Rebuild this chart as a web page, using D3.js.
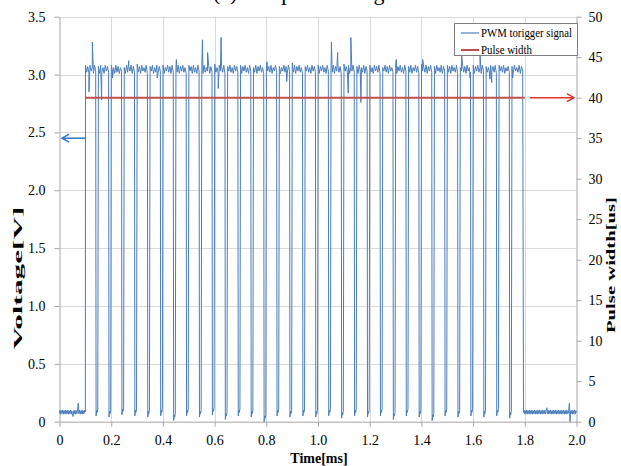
<!DOCTYPE html>
<html><head><meta charset="utf-8">
<script src="https://cdn.jsdelivr.net/npm/d3@7"></script>
<style>
html,body{margin:0;padding:0;background:#fff;}
svg{display:block;font-family:"Liberation Serif","Times New Roman",serif;}
svg text{font-family:"Liberation Serif","Times New Roman",serif;}
</style></head>
<body>
<svg id="c" width="621" height="466"></svg>
<script>
// ---------- data ----------
const titleText = "(a) Temporal change";
const xTickValues = [0,0.2,0.4,0.6,0.8,1.0,1.2,1.4,1.6,1.8,2.0];
const xTickLabels = ["0","0.2","0.4","0.6","0.8","1.0","1.2","1.4","1.6","1.8","2.0"];
const yTickValues = [0,0.5,1.0,1.5,2.0,2.5,3.0,3.5];
const yTickLabels = ["0","0.5","1.0","1.5","2.0","2.5","3.0","3.5"];
const y2TickValues = [0,5,10,15,20,25,30,35,40,45,50];
const y2TickLabels = ["0","5","10","15","20","25","30","35","40","45","50"];
const seriesNames = ["PWM torigger signal","Pulse width"];

// low level before the trigger starts (0 .. 0.1 ms, every 0.0025 ms)
const preV = [0.07,0.1,0.065,0.095,0.07,0.1,0.065,0.095,0.07,0.1,0.065,0.095,0.07,0.1,0.065,0.095,0.07,0.1,0.065,0.095,0.07,0.045,0.095,0.07,0.1,0.065,0.095,0.07,0.1,0.16,0.07,0.1,0.065,0.095,0.07,0.1,0.065,0.095,0.07,0.1,0.085];
// start of each low dip [ms]
const dipTimes = [0.14,0.19,0.24,0.29,0.34,0.39,0.44,0.49,0.54,0.59,0.64,0.69,0.74,0.79,0.84,0.89,0.94,0.99,1.04,1.09,1.14,1.19,1.24,1.29,1.34,1.39,1.44,1.49,1.54,1.59,1.64,1.69,1.74];
// bottom voltage of each dip
const dipLow = [0.05,0.04,0.06,0.05,0.04,0.05,0.01,0.05,0.04,0.06,0.02,0.05,0.04,0.00,0.05,0.04,0.05,0.04,0.05,0.03,0.05,0.04,0.05,0.02,0.05,0.04,0.01,0.05,0.04,0.05,0.04,0.05,0.03];
// high plateau samples, one row per high segment
const highSeg = [
[3.08,3.02,3.07,3.01,3.08,3.03,3.06,3.01,3.08,3.03],
[3.07,3.01,3.08,3.02,3.06,3.01,3.08,3.03,3.07,3.02],
[3.08,3.03,3.06,3.01,3.08,3.02,3.07,3.01,3.06,3.03],
[3.06,3.01,3.08,3.02,3.07,3.03,3.08,3.01,3.07,3.02],
[3.09,3.02,3.07,3.01,3.08,3.03,3.06,3.02,3.08,3.01],
[3.07,3.03,3.08,3.01,3.06,3.02,3.08,3.01,3.07,3.03],
[3.08,3.01,3.06,3.03,3.08,3.02,3.07,3.01,3.08,3.02],
[3.06,3.02,3.08,3.01,3.07,3.03,3.08,3.02,3.06,3.01],
[3.08,3.03,3.07,3.01,3.08,3.02,3.06,3.01,3.08,3.03],
[3.07,3.01,3.08,3.02,3.06,3.03,3.08,3.01,3.07,3.02],
[3.09,3.02,3.06,3.01,3.08,3.03,3.07,3.02,3.08,3.01],
[3.07,3.03,3.08,3.02,3.06,3.01,3.08,3.03,3.07,3.02],
[3.08,3.01,3.07,3.03,3.08,3.02,3.06,3.01,3.08,3.03],
[3.06,3.02,3.08,3.01,3.07,3.03,3.08,3.02,3.06,3.01],
[3.08,3.03,3.07,3.02,3.08,3.01,3.06,3.03,3.08,3.02],
[3.07,3.01,3.06,3.03,3.08,3.02,3.07,3.01,3.08,3.03],
[3.10,3.02,3.08,3.01,3.07,3.03,3.08,3.02,3.06,3.01],
[3.07,3.03,3.08,3.02,3.06,3.01,3.08,3.03,3.07,3.02],
[3.08,3.01,3.07,3.03,3.08,3.02,3.06,3.01,3.08,3.03],
[3.06,3.02,3.08,3.01,3.07,3.03,3.08,3.02,3.07,3.01],
[3.09,3.03,3.07,3.02,3.08,3.01,3.06,3.03,3.08,3.02],
[3.07,3.01,3.08,3.03,3.06,3.02,3.08,3.01,3.07,3.03],
[3.08,3.02,3.06,3.01,3.08,3.03,3.07,3.02,3.08,3.01],
[3.06,3.03,3.08,3.02,3.07,3.01,3.08,3.03,3.06,3.02],
[3.09,3.01,3.07,3.03,3.08,3.02,3.06,3.01,3.08,3.03],
[3.07,3.02,3.08,3.01,3.06,3.03,3.08,3.02,3.07,3.01],
[3.09,3.03,3.06,3.02,3.08,3.01,3.07,3.03,3.08,3.02],
[3.07,3.01,3.08,3.03,3.06,3.02,3.08,3.01,3.07,3.03],
[3.08,3.02,3.07,3.01,3.08,3.03,3.06,3.02,3.08,3.01],
[3.06,3.03,3.08,3.02,3.07,3.01,3.08,3.03,3.06,3.02],
[3.08,3.01,3.07,3.03,3.08,3.02,3.06,3.01,3.08,3.03],
[3.07,3.02,3.06,3.01,3.08,3.03,3.07,3.02,3.08,3.01],
[3.08,3.03,3.07,3.02,3.08,3.01,3.06,3.03,3.07,3.02],
[3.07,3.01,3.08,3.03,3.06,3.02,3.08,3.01,3.07,3.03]
];
const signalEnd = 1.792;
// isolated spikes on the plateau [ms, V]
const spikeT = [0.114,0.127,0.163,0.205,0.268,0.378,0.452,0.553,0.573,0.614,0.625,0.803,0.879,1.052,1.076,1.117,1.127,1.166,1.303,1.405,1.556,1.588,1.627,1.665,1.672,1.753];
const spikeV = [2.85,3.28,2.78,2.97,3.12,2.97,3.13,3.30,3.19,2.88,3.32,3.11,2.94,3.28,3.19,2.84,3.32,2.76,3.13,3.13,3.16,2.97,3.16,2.96,2.93,2.97];
// low level after the trigger stops (1.795 .. 2.0 ms, every 0.0025 ms)
const postV = [0.08,0.1,0.065,0.095,0.07,0.1,0.065,0.095,0.07,0.1,0.065,0.095,0.07,0.1,0.065,0.095,0.07,0.1,0.065,0.095,0.07,0.1,0.065,0.095,0.07,0.1,0.065,0.095,0.07,0.1,0.065,0.095,0.07,0.1,0.065,0.095,0.12,0.07,0.1,0.065,0.095,0.07,0.1,0.065,0.095,0.07,0.1,0.065,0.095,0.07,0.1,0.065,0.095,0.07,0.1,0.065,0.095,0.07,0.1,0.065,0.095,0.07,0.1,0.065,0.095,0.07,0.1,0.065,0.095,0.07,0.1,0.16,0.0,0.095,0.07,0.1,0.065,0.095,0.07,0.1,0.065,0.095,0.08];
// pulse width series (right axis, us)
const pulseT = [0.1,1.8];
const pulseW = [40,40];
// annotation arrows
const leftArrow = {x0:0.1, x1:0.01, v:2.45};
const rightArrow = {x0:1.82, x1:1.99, w:40};

// ---------- layout ----------
const FONT = "'Liberation Serif','Times New Roman',serif";
const svg = d3.select("#c");
const x = d3.scaleLinear().domain([0,2]).range([59.5,576.5]);
const y = d3.scaleLinear().domain([0,3.5]).range([421.7,16.7]);
const y2 = d3.scaleLinear().domain([0,50]).range([421.7,16.7]);
const gridC = "#d9d9d9", axisC = "#a6a6a6";

// title (cut off at top, as in the reference)
svg.append("text").attr("x",213).attr("y",0).attr("font-size",22).attr("fill","#000").text(titleText);

// grid
svg.append("g").selectAll("line").data(xTickValues.slice(1,-1)).join("line")
  .attr("x1",d=>Math.round(x(d))+0.5).attr("x2",d=>Math.round(x(d))+0.5)
  .attr("y1",y(3.5)).attr("y2",y(0)).attr("stroke",gridC);
svg.append("g").selectAll("line").data(yTickValues.slice(1)).join("line")
  .attr("x1",x(0)).attr("x2",x(2)).attr("y1",d=>Math.round(y(d))+0.5).attr("y2",d=>Math.round(y(d))+0.5)
  .attr("stroke",gridC);

function styleAxis(g){
  g.attr("font-family",FONT).attr("font-size",14);
  g.select(".domain").attr("stroke",axisC);
  g.selectAll(".tick line").attr("stroke",axisC);
  g.selectAll(".tick text").attr("fill","#000").style("font-family",FONT).style("font-size","14px");
}
const gx = svg.append("g").attr("transform",`translate(0,${y(0)})`)
  .call(d3.axisBottom(x).tickValues(xTickValues).tickFormat((d,i)=>xTickLabels[i]).tickSize(5).tickSizeOuter(0).tickPadding(8));
styleAxis(gx);
const gy = svg.append("g").attr("transform",`translate(${x(0)},0)`)
  .call(d3.axisLeft(y).tickValues(yTickValues).tickFormat((d,i)=>yTickLabels[i]).tickSize(5).tickSizeOuter(0).tickPadding(9));
styleAxis(gy);
const gy2 = svg.append("g").attr("transform",`translate(${x(2)},0)`)
  .call(d3.axisRight(y2).tickValues(y2TickValues).tickFormat((d,i)=>y2TickLabels[i]).tickSize(5).tickSizeOuter(0).tickPadding(7));
styleAxis(gy2);

// ---------- signal ----------
const pts = [];
preV.forEach((v,i)=>pts.push([i*0.0025, v]));
highSeg.forEach((row,k)=>{
  const s = k===0 ? 0.1005 : dipTimes[k-1]+0.0105;
  const e = k<dipTimes.length ? dipTimes[k] : signalEnd;
  row.forEach((v,j)=>pts.push([s+(e-s)*j/(row.length-1), v]));
  if(k<dipTimes.length){
    const d = dipTimes[k], lo = dipLow[k];
    pts.push([d+0.0015, lo],[d+0.004, lo+0.05],[d+0.0055, lo+0.03],[d+0.008, lo+0.06]);
  }
});
postV.forEach((v,i)=>pts.push([1.795+i*0.0025, v]));
spikeT.forEach((t,i)=>pts.push([t, spikeV[i]]));
pts.sort((a,b)=>a[0]-b[0]);

const line = d3.line().x(d=>x(d[0])).y(d=>y(d[1]));
svg.append("path").datum(pts).attr("d",line).attr("fill","none")
  .attr("stroke","#4a7ebb").attr("stroke-width",1);

// pulse width (right axis)
svg.append("path").datum(pulseT.map((t,i)=>[t,pulseW[i]]))
  .attr("d",d3.line().x(d=>x(d[0])).y(d=>y2(d[1])))
  .attr("fill","none").attr("stroke","#c0504d").attr("stroke-width",2);

// arrows
const la = svg.append("g").attr("stroke","#2e75c6").attr("stroke-width",1.5).attr("fill","none");
la.append("line").attr("x1",x(leftArrow.x0)).attr("x2",x(leftArrow.x1)).attr("y1",y(leftArrow.v)).attr("y2",y(leftArrow.v));
la.append("path").attr("d",`M${x(leftArrow.x1)+7},${y(leftArrow.v)-4}L${x(leftArrow.x1)},${y(leftArrow.v)}L${x(leftArrow.x1)+7},${y(leftArrow.v)+4}`);
const ra = svg.append("g").attr("stroke","#e0322b").attr("stroke-width",1.5).attr("fill","none");
ra.append("line").attr("x1",x(rightArrow.x0)).attr("x2",x(rightArrow.x1)).attr("y1",y2(rightArrow.w)).attr("y2",y2(rightArrow.w));
ra.append("path").attr("d",`M${x(rightArrow.x1)-7},${y2(rightArrow.w)-4}L${x(rightArrow.x1)},${y2(rightArrow.w)}L${x(rightArrow.x1)-7},${y2(rightArrow.w)+4}`);

// legend
const lg = svg.append("g");
lg.append("rect").attr("x",454.5).attr("y",23.5).attr("width",123).attr("height",32)
  .attr("fill","#fff").attr("stroke","#808080");
const legColors = ["#4a7ebb","#c0504d"], legW = [1.2,2];
seriesNames.forEach((n,i)=>{
  const yy = 33 + i*17;
  lg.append("line").attr("x1",461).attr("x2",479).attr("y1",yy).attr("y2",yy)
    .attr("stroke",legColors[i]).attr("stroke-width",legW[i]);
  lg.append("text").attr("x",481).attr("y",yy+4).attr("font-size",12.5)
    .attr("textLength", i===0?91:51).attr("lengthAdjust","spacingAndGlyphs").text(n);
});

// axis titles
svg.append("text").attr("x",319).attr("y",463).attr("text-anchor","middle")
  .attr("font-size",14).attr("font-weight","bold").text("Time[ms]");
svg.append("text").attr("transform","translate(22,278) rotate(-90)").attr("text-anchor","middle")
  .attr("font-size",13).attr("font-weight","bold").attr("textLength",143).attr("lengthAdjust","spacingAndGlyphs")
  .text("Voltage[V]");
svg.append("text").attr("transform","translate(615,265) rotate(-90)").attr("text-anchor","middle")
  .attr("font-size",12).attr("font-weight","bold").attr("textLength",136).attr("lengthAdjust","spacingAndGlyphs")
  .text("Pulse width[us]");
</script>
</body></html>
